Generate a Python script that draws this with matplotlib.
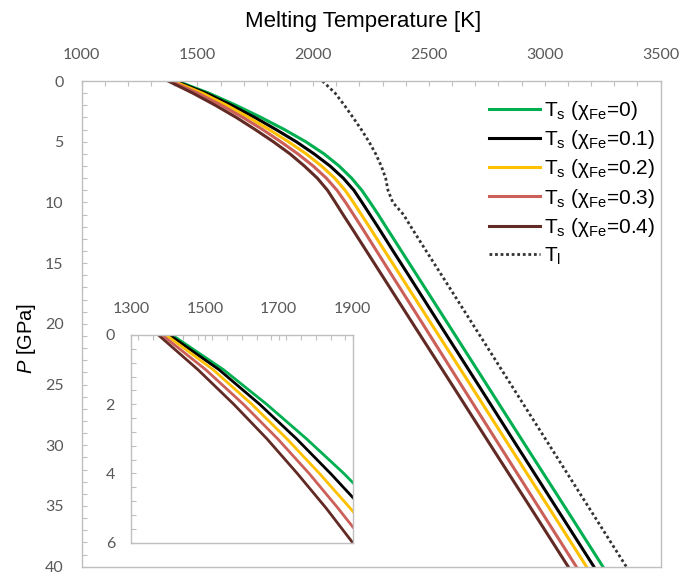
import matplotlib
matplotlib.use("Agg")
from matplotlib import pyplot as plt
from matplotlib.ticker import MultipleLocator

plt.rcParams["font.family"] = ["Liberation Sans", "DejaVu Sans"]
plt.rcParams["mathtext.fontset"] = "custom"
plt.rcParams["mathtext.rm"] = "Liberation Sans"
plt.rcParams["mathtext.it"] = "Liberation Sans:italic"

# pressure [GPa] and melting temperatures [K]
pressure = [0, 1, 2, 3, 4, 5, 6, 7, 8, 9, 10, 11, 12, 14, 16, 20, 25, 30, 35, 40]
t_s_fe00 = [1411, 1550, 1667, 1775, 1876, 1968, 2047, 2112, 2166, 2210, 2246, 2281, 2314, 2381, 2448, 2582, 2749, 2916, 3084, 3251]
t_s_fe01 = [1404, 1538, 1648, 1748, 1840, 1927, 2004, 2073, 2130, 2176, 2211, 2245, 2279, 2345, 2412, 2545, 2712, 2878, 3045, 3212]
t_s_fe02 = [1395, 1522, 1627, 1722, 1810, 1893, 1970, 2036, 2093, 2138, 2174, 2208, 2242, 2309, 2376, 2510, 2678, 2845, 3013, 3180]
t_s_fe03 = [1384, 1502, 1604, 1697, 1782, 1860, 1934, 2000, 2057, 2103, 2140, 2174, 2208, 2274, 2340, 2473, 2638, 2804, 2970, 3136]
t_s_fe04 = [1374, 1481, 1578, 1668, 1750, 1828, 1900, 1962, 2018, 2062, 2096, 2129, 2163, 2230, 2297, 2431, 2599, 2766, 2934, 3101]
t_liquidus = [2040, 2095, 2135, 2172, 2208, 2241, 2270, 2294, 2313, 2323, 2344, 2390, 2422, 2488, 2555, 2688, 2854, 3020, 3186, 3352]

solidus = [t_s_fe00, t_s_fe01, t_s_fe02, t_s_fe03, t_s_fe04]
fe_labels = ["0", "0.1", "0.2", "0.3", "0.4"]
colors = ["#00b050", "#000000", "#ffc000", "#cc6058", "#622a24"]

main_xticks = [1000, 1500, 2000, 2500, 3000, 3500]
inset_xticks = [1300, 1500, 1700, 1900]

GRID = "#bfbfbf"
TICK_TXT = "#595959"


def style_axes(ax, xticks, xminor, ymaj, xpad, ypad):
    ax.xaxis.tick_top()
    ax.set_xticks(xticks)
    ax.xaxis.set_minor_locator(MultipleLocator(xminor))
    ax.yaxis.set_major_locator(MultipleLocator(ymaj))
    ax.yaxis.set_minor_locator(MultipleLocator(ymaj / 5))
    for sp in ax.spines.values():
        sp.set_color(GRID)
        sp.set_linewidth(1.0)
    ax.tick_params(which="both", direction="in", color=GRID, length=3.5, width=0.8,
                   top=True, bottom=False, left=True, right=False)
    ax.tick_params(axis="x", which="major", pad=xpad, labelsize=11.5, labelcolor=TICK_TXT)
    ax.tick_params(axis="y", which="major", pad=ypad, labelsize=11.5, labelcolor=TICK_TXT)
    for lab in ax.get_xticklabels() + ax.get_yticklabels():
        lab.set_family("Lato")


fig = plt.figure(figsize=(6.91, 5.73), dpi=100)

# main panel
ax = fig.add_axes([0.118, 0.011, 0.838, 0.8476])
for t, fe, c in zip(solidus, fe_labels, colors):
    ax.plot(t, pressure, color=c, linewidth=2.2, solid_joinstyle="round",
            label=r"T$_\mathregular{s}$ (χ$_\mathregular{Fe}$=" + fe + ")")
ax.plot(t_liquidus, pressure, color="#333333", linewidth=2.0, linestyle=(0, (1, 1)),
        label=r"T$_\mathregular{l}$")
ax.set_xlim(1000, 3500)
ax.set_ylim(40, 0)
style_axes(ax, main_xticks, 100, 5, 14, 13)
ax.set_ylabel(r"$P$ [GPa]", fontsize=14.5)
ax.yaxis.set_label_coords(-0.075, 0.47)
fig.text(363 / 691, 1 - 22 / 573, "Melting Temperature [K]", fontsize=16,
         ha="center", va="center")

ax.legend(loc="upper left", bbox_to_anchor=(489 / 691, 1 - 99 / 573),
          bbox_transform=fig.transFigure, frameon=False, fontsize=15,
          handlelength=2.45, handletextpad=0.2, labelspacing=0.3,
          borderpad=0, borderaxespad=0)

# inset: low-pressure zoom
axin = fig.add_axes([0.1896, 0.0529, 0.3208, 0.3625])
for t, c in zip(solidus, colors):
    axin.plot(t, pressure, color=c, linewidth=2.0, solid_joinstyle="round")
axin.set_xlim(1300, 1900)
axin.set_ylim(6, 0)
style_axes(axin, inset_xticks, 40, 2, 14, 11.5)

fig.savefig("out.png", dpi=100)
